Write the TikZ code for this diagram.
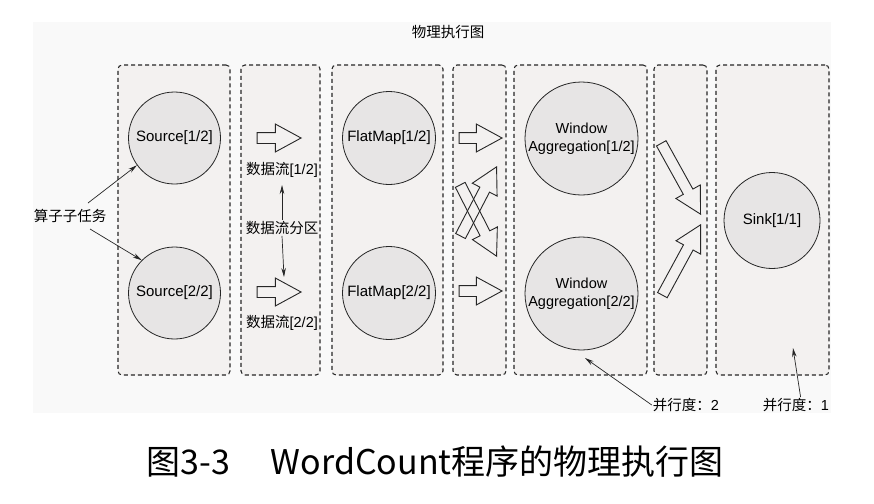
\documentclass[tikz,border=0pt]{standalone}
\usepackage{fontspec}
\setmainfont{Liberation Sans}
\newfontfamily\cjk{Noto Sans CJK SC}
\usetikzlibrary{shapes.arrows,arrows.meta}
\definecolor{panelbg}{HTML}{F9F9F9}
\definecolor{boxbg}{HTML}{F3F1F0}
\definecolor{circbg}{HTML}{E7E5E5}
\definecolor{ink}{HTML}{262626}
\tikzset{
  stagebox/.style={draw=ink, fill=boxbg, line width=1.05pt, dash pattern=on 4pt off 3pt,
    rounded corners=4pt, minimum height=310pt, inner sep=0pt},
  task/.style={circle, draw=ink, fill=circbg, line width=0.8pt, inner sep=0pt,
    align=center, font=\fontsize{15}{17}\selectfont},
  barrow/.style={shape=single arrow, draw=ink, line width=0.9pt, fill=none,
    inner xsep=0pt, inner ysep=5pt, single arrow head extend=8.5pt,
    single arrow tip angle=57, minimum width=0pt, anchor=tip},
  lbl/.style={inner sep=1pt, font=\fontsize{14.5}{17}\selectfont},
  ann/.style={-{Stealth[length=9pt,width=4.5pt]}, line width=0.7pt, draw=ink},
}
\begin{document}
\begin{tikzpicture}[x=1pt,y=-1pt]
\useasboundingbox (0,0) rectangle (874,503);
\fill[white] (0,0) rectangle (874,503);
\fill[panelbg] (33,22) rectangle (831,413);

\node[lbl] (title) at (448,32) {\cjk 物理执行图};

% stage boxes
\node[stagebox, minimum width=112pt] (box1) at (174,220) {};
\node[stagebox, minimum width=79pt]  (box2) at (280.5,220) {};
\node[stagebox, minimum width=111pt] (box3) at (387.5,220) {};
\node[stagebox, minimum width=53pt]  (box4) at (479.5,220) {};
\node[stagebox, minimum width=133pt] (box5) at (580.5,220) {};
\node[stagebox, minimum width=53pt]  (box6) at (680.5,220) {};
\node[stagebox, minimum width=113pt] (box7) at (772.5,220) {};

% tasks
\node[task, minimum size=92pt] (src1) at (174.5,138) {Source[1/2]};
\node[task, minimum size=92pt] (src2) at (174.5,293) {Source[2/2]};
\node[task, minimum size=93pt] (fm1) at (389,138) {FlatMap[1/2]};
\node[task, minimum size=93pt] (fm2) at (389,293) {FlatMap[2/2]};
\node[task, minimum size=113pt, font=\fontsize{14.5}{18}\selectfont] (wa1) at (581.5,138.5) {Window\\Aggregation[1/2]};
\node[task, minimum size=113pt, font=\fontsize{14.5}{18}\selectfont] (wa2) at (581.5,293.5) {Window\\Aggregation[2/2]};
\node[task, minimum size=96pt] (sink) at (772,220.5) {Sink[1/1]};

% block arrows (data streams)
\node[barrow, minimum height=44pt] (ds1) at (302,138) {};
\node[barrow, minimum height=44pt] (ds2) at (302,292) {};
\node[barrow, minimum height=43pt] (fw1) at (503,138) {};
\node[barrow, minimum height=43pt] (fw2) at (503,291) {};
\node[barrow, minimum height=80pt, rotate=-63] (xd) at (497,257) {};
\node[barrow, minimum height=78pt, rotate=62.5] (xu) at (497,166) {};
\node[barrow, minimum height=81pt, rotate=-61] (sk1) at (701,215) {};
\node[barrow, minimum height=80pt, rotate=61.5] (sk2) at (701,224) {};

% labels
\node[lbl] (df1) at (282,170) {{\cjk 数据流}[1/2]};
\node[lbl] (df2) at (282,323) {{\cjk 数据流}[2/2]};
\node[lbl] (dfp) at (282,228) {\cjk 数据流分区};
\node[lbl] (sub) at (70,216) {\cjk 算子子任务};
\node[lbl] (p2) at (686,405) {{\cjk 并行度：}2};
\node[lbl] (p1) at (796,405) {{\cjk 并行度：}1};

% annotation coordinates
\coordinate (s1) at (88,203);
\coordinate (s2) at (90,229);
\coordinate (u1) at (282,185);
\coordinate (d1) at (284,277);
\coordinate (w2) at (585,358);
\coordinate (k1) at (793,348);

\draw[ann] (s1) -- (src1.216);
\draw[ann] (s2) -- (src2.135);
\draw[ann] (dfp.north) -- (u1);
\draw[ann] (dfp.south) -- (d1);
\draw[ann] (p2.west) -- (w2);
\draw[ann] (p1.60) -- (k1);

% caption
\node[inner sep=0pt, font=\cjk\fontsize{34}{40}\selectfont] (cap) at (435,462) {图3-3\hspace{1.2em}WordCount程序的物理执行图};
\end{tikzpicture}
\end{document}
